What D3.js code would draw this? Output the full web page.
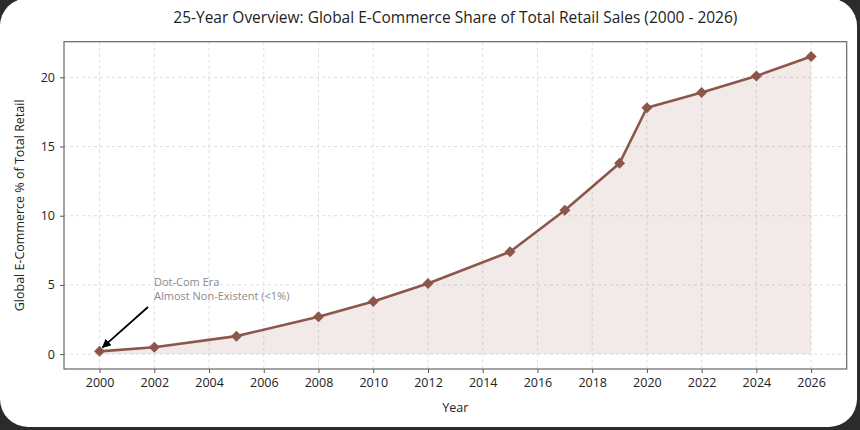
<!DOCTYPE html>
<html><head><meta charset="utf-8">
<script src="https://cdn.jsdelivr.net/npm/d3@7"></script>
<style>
html,body{margin:0;padding:0;background:#2b2b2b;}
svg{display:block;}
text{font-family:"Open Sans","Noto Sans",sans-serif;}
</style></head>
<body>
<script>
const years = [2000, 2002, 2005, 2008, 2010, 2012, 2015, 2017, 2019, 2020, 2022, 2024, 2026];
const shares = [0.2, 0.5, 1.3, 2.7, 3.8, 5.1, 7.4, 10.4, 13.8, 17.8, 18.9, 20.1, 21.5];
const xTicks = [2000, 2002, 2004, 2006, 2008, 2010, 2012, 2014, 2016, 2018, 2020, 2022, 2024, 2026];
const yTicks = [0, 5, 10, 15, 20];
const titleText = "25-Year Overview: Global E-Commerce Share of Total Retail Sales (2000 - 2026)";
const xLabel = "Year";
const yLabel = "Global E-Commerce % of Total Retail";
const noteLines = ["Dot-Com Era", "Almost Non-Existent (<1%)"];

const W = 860, H = 430;
const svg = d3.select("body").append("svg").attr("width", W).attr("height", H);
svg.append("rect").attr("x",0).attr("y",0).attr("width",W).attr("height",H).attr("fill","#2b2b2b");
svg.append("rect").attr("x",0).attr("y",-2).attr("width",857).attr("height",429).attr("rx",28).attr("fill","#ffffff");

const L = 64, R = 846.7, T = 41.7, B = 369;
const x = d3.scaleLinear().domain([1998.7, 2027.3]).range([L, R]);
const y = d3.scaleLinear().domain([-1.075, 22.575]).range([B, T]);

const data = years.map((yr, i) => ({yr, v: shares[i]}));

// grid
const g = svg.append("g");
g.selectAll(".gx").data(xTicks).enter().append("line")
  .attr("x1", d => x(d)).attr("x2", d => x(d)).attr("y1", T).attr("y2", B)
  .attr("stroke", "#d6d6d6").attr("stroke-width", 0.8).attr("stroke-dasharray", "3,3");
g.selectAll(".gy").data(yTicks).enter().append("line")
  .attr("x1", L).attr("x2", R).attr("y1", d => y(d)).attr("y2", d => y(d))
  .attr("stroke", "#d6d6d6").attr("stroke-width", 0.8).attr("stroke-dasharray", "3,3");

// area
svg.append("path").datum(data)
  .attr("d", d3.area().x(d => x(d.yr)).y0(y(0)).y1(d => y(d.v)))
  .attr("fill", "#8c564b").attr("fill-opacity", 0.12);

// line
svg.append("path").datum(data)
  .attr("d", d3.line().x(d => x(d.yr)).y(d => y(d.v)))
  .attr("fill", "none").attr("stroke", "#8c564b").attr("stroke-width", 2.6).attr("stroke-linejoin","round");

// markers
svg.selectAll(".mk").data(data).enter().append("path")
  .attr("transform", d => `translate(${x(d.yr)},${y(d.v)})`)
  .attr("d", "M0,-5.5L5.5,0L0,5.5L-5.5,0Z")
  .attr("fill", "#8c564b");

// axes
const xAxis = svg.append("g").attr("transform", `translate(0,${B})`)
  .call(d3.axisBottom(x).tickValues(xTicks).tickFormat(d3.format("d")).tickSize(4).tickPadding(5));
const yAxis = svg.append("g").attr("transform", `translate(${L},0)`)
  .call(d3.axisLeft(y).tickValues(yTicks).tickSize(4).tickPadding(5));
[xAxis, yAxis].forEach(a => {
  a.select(".domain").remove();
  a.selectAll("line").attr("stroke", "#555");
  a.selectAll("text").attr("font-size", 12.5).attr("fill", "#222")
   .style("font-family", '"Open Sans","Noto Sans",sans-serif');
});

// frame
svg.append("rect").attr("x", L).attr("y", T).attr("width", R - L).attr("height", B - T)
  .attr("fill", "none").attr("stroke", "#666").attr("stroke-width", 1.2);

// title & labels
svg.append("text").attr("x", (L + R) / 2).attr("y", 23).attr("text-anchor", "middle")
  .attr("font-size", 15.5).attr("fill", "#222").text(titleText);
svg.append("text").attr("x", (L + R) / 2).attr("y", 412).attr("text-anchor", "middle")
  .attr("font-size", 12.5).attr("fill", "#222").text(xLabel);
svg.append("text").attr("transform", `translate(24,${(T + B) / 2}) rotate(-90)`)
  .attr("text-anchor", "middle").attr("font-size", 12.5).attr("fill", "#222").text(yLabel);

// annotation
const note = svg.append("text").attr("x", 154).attr("y", 285.5).attr("font-size", 11).attr("fill", "#8a8a8a");
noteLines.forEach((t, i) => note.append("tspan").attr("x", 154).attr("dy", i ? 14 : 0).text(t));
svg.append("defs").append("marker").attr("id", "ah").attr("viewBox", "0 0 10 10")
  .attr("refX", 9).attr("refY", 5).attr("markerWidth", 5).attr("markerHeight", 5)
  .attr("markerUnits","strokeWidth").attr("orient", "auto")
  .append("path").attr("d", "M0,0L10,5L0,10Z").attr("fill", "#000");
svg.append("line").attr("x1", 148).attr("y1", 307)
  .attr("x2", x(years[0]) + 3).attr("y2", y(shares[0]) - 4)
  .attr("stroke", "#000").attr("stroke-width", 1.8).attr("marker-end", "url(#ah)");
</script>
</body></html>
